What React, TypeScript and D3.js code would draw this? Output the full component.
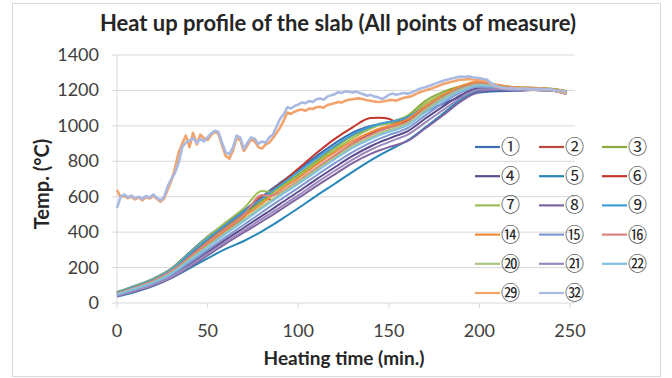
import * as d3 from 'd3';

// sample times (min.) for the slab thermocouples
const minutes = [0, 10, 20, 30, 40, 50, 60, 70, 80, 85, 90, 100, 110, 120, 130, 140, 145, 150, 155, 160, 170, 180, 190, 200, 210, 220, 230, 240, 248];

const p01 = [62, 98, 138, 195, 285, 375, 450, 522, 600, 640, 678, 752, 828, 900, 962, 1000, 1008, 1014, 1022, 1038, 1080, 1125, 1165, 1188, 1196, 1198, 1202, 1200, 1185];
const p02 = [50, 84, 120, 172, 250, 330, 408, 485, 600, 582, 612, 680, 755, 830, 900, 955, 980, 995, 1010, 1030, 1105, 1165, 1210, 1238, 1225, 1212, 1210, 1205, 1190];
const p03 = [55, 90, 128, 182, 262, 345, 425, 500, 575, 615, 655, 725, 800, 875, 945, 990, 1010, 1020, 1035, 1055, 1140, 1192, 1225, 1245, 1230, 1218, 1215, 1210, 1198];
const p04 = [42, 72, 105, 152, 218, 288, 358, 425, 492, 525, 560, 628, 698, 765, 830, 885, 908, 928, 948, 968, 1040, 1110, 1175, 1212, 1210, 1205, 1205, 1200, 1185];
const p05 = [36, 62, 95, 140, 195, 252, 305, 350, 405, 435, 468, 535, 605, 672, 740, 805, 835, 862, 888, 915, 990, 1070, 1150, 1198, 1206, 1202, 1202, 1198, 1182];
const p06 = [58, 92, 130, 188, 272, 358, 438, 512, 590, 632, 672, 758, 845, 925, 992, 1045, 1046, 1040, 1018, 1030, 1090, 1150, 1205, 1232, 1222, 1212, 1212, 1205, 1192];
const p07 = [60, 96, 136, 192, 280, 372, 455, 535, 632, 628, 650, 715, 790, 860, 930, 985, 1005, 1015, 1030, 1050, 1125, 1180, 1215, 1235, 1225, 1215, 1212, 1208, 1195];
const p08 = [38, 66, 98, 142, 202, 268, 335, 398, 460, 492, 525, 592, 660, 725, 790, 842, 862, 880, 895, 912, 985, 1060, 1140, 1192, 1205, 1200, 1202, 1198, 1180];
const p09 = [57, 93, 132, 188, 275, 362, 440, 515, 590, 628, 665, 740, 815, 885, 950, 995, 1012, 1022, 1032, 1048, 1110, 1170, 1215, 1235, 1220, 1210, 1208, 1205, 1192];
const p14 = [52, 86, 124, 178, 255, 335, 412, 488, 560, 600, 638, 705, 780, 850, 915, 965, 985, 1000, 1015, 1035, 1110, 1175, 1225, 1250, 1232, 1218, 1215, 1208, 1195];
const p15 = [45, 76, 110, 158, 228, 300, 372, 442, 512, 548, 582, 650, 720, 788, 852, 905, 928, 948, 965, 985, 1058, 1130, 1190, 1222, 1215, 1208, 1205, 1200, 1185];
const p16 = [53, 87, 125, 180, 258, 342, 420, 498, 610, 605, 625, 690, 762, 832, 898, 948, 970, 988, 1002, 1020, 1095, 1160, 1210, 1240, 1225, 1215, 1212, 1205, 1192];
const p20 = [50, 82, 118, 170, 245, 322, 398, 472, 545, 580, 615, 682, 752, 820, 885, 935, 958, 975, 992, 1012, 1088, 1155, 1205, 1232, 1222, 1212, 1210, 1205, 1190];
const p21 = [40, 70, 102, 148, 210, 278, 345, 410, 475, 508, 540, 608, 678, 745, 810, 865, 888, 908, 928, 948, 1018, 1090, 1160, 1205, 1208, 1202, 1203, 1198, 1182];
const p22 = [48, 80, 115, 166, 240, 315, 390, 462, 535, 570, 605, 672, 742, 810, 875, 925, 948, 965, 982, 1002, 1075, 1145, 1198, 1228, 1220, 1210, 1208, 1203, 1188];

// furnace atmosphere points, logged every 2 min.
const atmoMinutes = d3.range(0, 249, 2);
const p29 = [
  638, 598, 604, 592, 600, 585, 596, 580, 598, 590, 605, 588, 572, 590, 640, 690, 760, 850, 900, 945,
  880, 960, 895, 950, 930, 920, 948, 965, 955, 890, 830, 815, 860, 930, 920, 858, 890, 925, 912, 880,
  872, 895, 905, 930, 960, 990, 1030, 1075, 1068, 1080, 1088, 1092, 1085, 1098, 1095, 1105, 1108, 1102, 1118, 1122,
  1128, 1135, 1132, 1142, 1148, 1150, 1154, 1155, 1150, 1145, 1142, 1138, 1135, 1136, 1140, 1145, 1146, 1142, 1150, 1158,
  1162, 1165, 1175, 1185, 1192, 1200, 1206, 1212, 1220, 1228, 1236, 1242, 1248, 1252, 1258, 1260, 1262, 1265, 1262, 1260,
  1258, 1256, 1255, 1240, 1228, 1220, 1215, 1212, 1212, 1214, 1210, 1210, 1212, 1208, 1206, 1206, 1205, 1208, 1203, 1204,
  1202, 1198, 1192, 1188, 1184,
];
const p32 = [
  536, 600, 612, 598, 606, 592, 600, 588, 604, 596, 612, 594, 580, 600, 660, 700, 735, 790, 880, 905,
  918, 930, 905, 925, 912, 935, 958, 972, 965, 905, 850, 840, 878, 945, 935, 870, 905, 935, 928, 898,
  912, 905, 935, 950, 995, 1040, 1065, 1105, 1098, 1112, 1120, 1132, 1128, 1140, 1135, 1150, 1155, 1148, 1165, 1172,
  1178, 1190, 1186, 1195, 1192, 1188, 1194, 1185, 1178, 1170, 1175, 1165, 1162, 1152, 1160, 1175, 1182, 1176, 1180, 1185,
  1182, 1186, 1195, 1205, 1212, 1218, 1225, 1232, 1240, 1248, 1255, 1260, 1266, 1270, 1276, 1278, 1275, 1280, 1274, 1272,
  1270, 1265, 1262, 1245, 1232, 1222, 1215, 1212, 1210, 1214, 1210, 1208, 1212, 1208, 1206, 1208, 1206, 1210, 1205, 1206,
  1204, 1200, 1198, 1195, 1192,
];

const labels = ['①', '②', '③', '④', '⑤', '⑥', '⑦', '⑧', '⑨', '⑭', '⑮', '⑯', '⑳', '㉑', '㉒', '㉙', '㉜'];
const colors = [
  '#3b6db0', '#b8483e', '#8aaa3c', '#5d4b8e', '#2687b7', '#c2372c', '#9bbf56', '#8064a2', '#3d9dd6',
  '#f08b3a', '#7f98cf', '#d88480', '#abc682', '#9a89bc', '#82c0e2', '#f2a46c', '#a9b9e2',
];
const xTicks = [0, 50, 100, 150, 200, 250];
const yTicks = [0, 200, 400, 600, 800, 1000, 1200, 1400];

const series = [
  ...[p01, p02, p03, p04, p05, p06, p07, p08, p09, p14, p15, p16, p20, p21, p22].map((values, i) => ({
    label: labels[i], color: colors[i], times: minutes, values, width: 2, smooth: true,
  })),
  { label: labels[15], color: colors[15], times: atmoMinutes, values: p29, width: 2.6, smooth: false },
  { label: labels[16], color: colors[16], times: atmoMinutes, values: p32, width: 2.6, smooth: false },
];

const W = 672;
const H = 378;
const font = 'Lato, "Liberation Sans", sans-serif';

export default function App() {
  const x = d3.scaleLinear().domain([0, 250]).range([117, 570]);
  const y = d3.scaleLinear().domain([0, 1400]).range([303, 55]);

  const makeLine = (times: number[], smooth: boolean) =>
    d3.line<number>()
      .x((_, i) => x(times[i]))
      .y(d => y(d))
      .curve(smooth ? d3.curveMonotoneX : d3.curveLinear);

  // legend: 3 columns, 29px rows
  const legendX = [475, 539, 602];
  const legendY0 = 147;
  const rowH = 29.2;

  return (
    <svg width={W} height={H} style={{ position: 'absolute', left: 0, top: 0, background: '#fff' }}>
      <rect x={12.5} y={3.5} width={648} height={373} fill="#fff" stroke="#d9d9d9" />

      <text x={338} y={31} textAnchor="middle" fontFamily={font} fontWeight="bold" fontSize={22} fill="#262626">
        Heat up profile of the slab (All points of measure)
      </text>

      {/* grid */}
      {yTicks.map(t => (
        <line key={'g' + t} x1={x(0)} x2={x(250) + 5} y1={y(t)} y2={y(t)} stroke="#d9d9d9" strokeWidth={1} />
      ))}
      <line x1={x(0)} x2={x(0)} y1={y(1400)} y2={y(0)} stroke="#d9d9d9" />
      {yTicks.map(t => (
        <line key={'yt' + t} x1={x(0) - 5} x2={x(0)} y1={y(t)} y2={y(t)} stroke="#d9d9d9" />
      ))}
      {xTicks.map(t => (
        <line key={'xt' + t} x1={x(t)} x2={x(t)} y1={y(0)} y2={y(0) + 5} stroke="#d9d9d9" />
      ))}

      {/* series */}
      {series.map(s => (
        <path
          key={s.label}
          d={makeLine(s.times, s.smooth)(s.values) || ''}
          fill="none"
          stroke={s.color}
          strokeWidth={s.width}
          strokeLinejoin="round"
        />
      ))}

      {/* tick labels */}
      {yTicks.map(t => (
        <text key={'yl' + t} x={99} y={y(t) + 6} textAnchor="end" fontFamily={font} fontSize={18} fill="#404040">
          {t}
        </text>
      ))}
      {xTicks.map(t => (
        <text key={'xl' + t} x={x(t)} y={337} textAnchor="middle" fontFamily={font} fontSize={18} fill="#404040">
          {t}
        </text>
      ))}

      <text x={344} y={365} textAnchor="middle" fontFamily={font} fontWeight="bold" fontSize={19} fill="#262626">
        Heating time (min.)
      </text>
      <text
        transform="translate(49,184) rotate(-90)"
        textAnchor="middle"
        fontFamily={font}
        fontWeight="bold"
        fontSize={20}
        fill="#262626"
      >
        Temp. (°C)
      </text>

      {/* legend */}
      {series.map((s, i) => {
        const cx = legendX[i % 3];
        const cy = legendY0 + Math.floor(i / 3) * rowH;
        return (
          <g key={'lg' + s.label}>
            <line x1={cx} x2={cx + 25} y1={cy} y2={cy} stroke={s.color} strokeWidth={2.2} />
            <text
              x={cx + 26}
              y={cy + 7}
              fontFamily='"Noto Sans CJK JP", "DejaVu Sans", sans-serif'
              fontSize={19}
              fill="#262626"
            >
              {s.label}
            </text>
          </g>
        );
      })}
    </svg>
  );
}
